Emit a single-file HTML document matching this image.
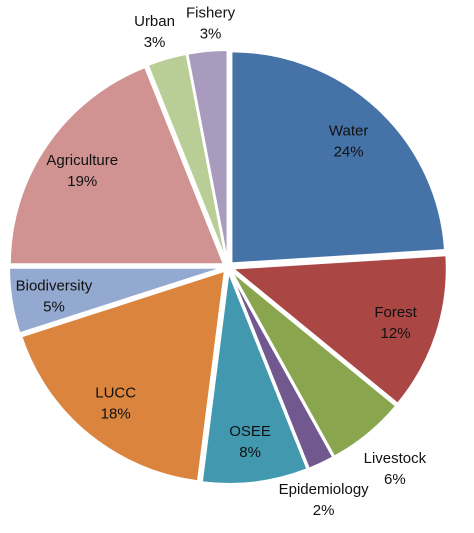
<!DOCTYPE html>
<html><head><meta charset="utf-8"><style>
html,body{margin:0;padding:0;background:#fff;}
svg{display:block;font-family:"Liberation Sans",sans-serif;}
</style></head><body>
<svg id="chart" width="474" height="533" viewBox="0 0 474 533"></svg>
<script>
const categories = ["Water","Forest","Livestock","Epidemiology","OSEE","LUCC","Biodiversity","Agriculture","Urban","Fishery"];
const values = [24,12,6,2,8,18,5,19,3,3];
const colors = ["#4572A7","#AA4643","#89A54E","#71588F","#4198AF","#DB843D","#93A9CF","#D19392","#B9CD96","#A99BBD"];
const labelRadius = [0.8,0.8,1.2,1.18,0.8,0.8,0.8,0.8,1.14,1.14];
const labelShiftX = [0,0,0,-14,0,0,0,0,-4,6];

const svg = document.getElementById('chart');
const NS = "http://www.w3.org/2000/svg";
const cx = 228, cy = 267, rx = 214, ry = 212, explode = 5;
const total = values.reduce((a,b)=>a+b,0);
function pt(a, fx, fy, ox, oy){ return [ox + fx*Math.sin(a), oy - fy*Math.cos(a)]; }
let start = 0;
values.forEach((v,i)=>{
  const ang = v/total*2*Math.PI;
  const end = start + ang, mid = start + ang/2;
  const ox = cx + explode*Math.sin(mid), oy = cy - explode*Math.cos(mid);
  const p1 = pt(start, rx, ry, ox, oy), p2 = pt(end, rx, ry, ox, oy);
  const large = ang > Math.PI ? 1 : 0;
  const path = document.createElementNS(NS,'path');
  path.setAttribute('d', `M${ox},${oy} L${p1[0]},${p1[1]} A${rx},${ry} 0 ${large} 1 ${p2[0]},${p2[1]} Z`);
  path.setAttribute('fill', colors[i]);
  path.setAttribute('stroke', '#fff');
  path.setAttribute('stroke-width', '2');
  
  
  svg.appendChild(path);
  const f = labelRadius[i];
  const lp = pt(mid, rx*f, ry*f, ox, oy);
  const lx = lp[0] + labelShiftX[i];
  const t = document.createElementNS(NS,'text');
  t.setAttribute('x', lx); t.setAttribute('y', lp[1] - 4);
  t.setAttribute('text-anchor','middle');
  t.setAttribute('font-size','15');
  t.setAttribute('fill','#111');
  
  
  const s1 = document.createElementNS(NS,'tspan');
  s1.setAttribute('x', lx); s1.textContent = categories[i];
  const s2 = document.createElementNS(NS,'tspan');
  s2.setAttribute('x', lx); s2.setAttribute('dy','21'); s2.textContent = v + '%';
  t.appendChild(s1); t.appendChild(s2);
  svg.appendChild(t);
  start = end;
});
</script>
</body></html>
